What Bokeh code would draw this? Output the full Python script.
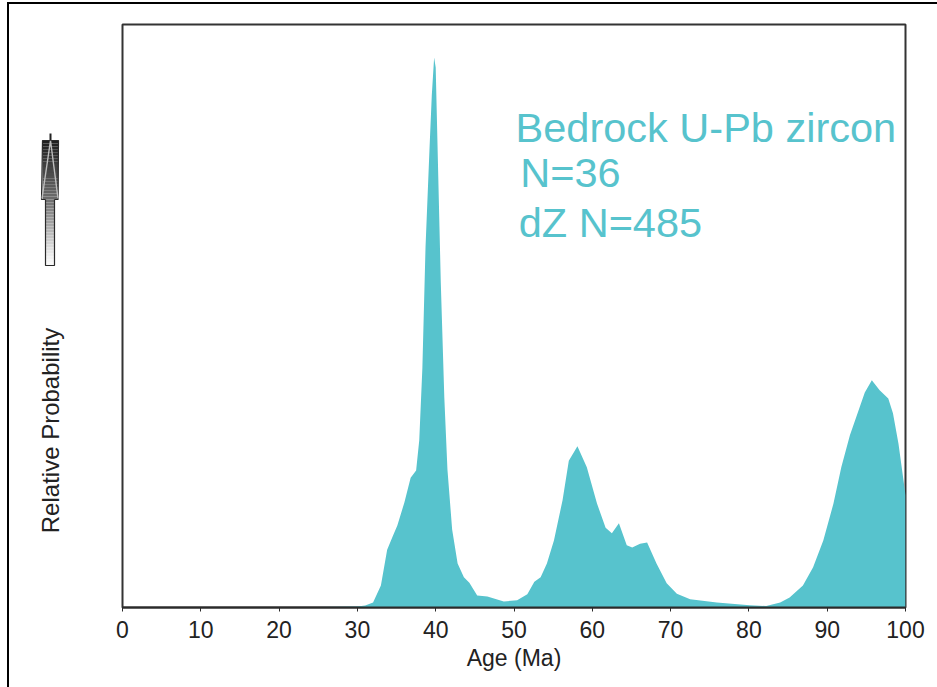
import math
from bokeh.plotting import figure
from bokeh.layouts import row
from bokeh.models import Range1d, FixedTicker, Label
from bokeh.embed import file_html
from bokeh.resources import INLINE

# ---- data ----
ages = [0, 20, 25, 28, 30, 31, 32, 33, 33.8, 34.5, 35.1, 36.0, 36.8, 37.5, 37.9,
        38.3, 38.7, 39.2, 39.5, 39.8, 40.0, 40.3, 40.65, 41.1, 41.5, 42.1, 42.8,
        43.6, 44.3, 45.3, 46.6, 48.7, 50.4, 51.7, 52.6, 53.4, 54.2, 55.1, 56.2,
        57.0, 58.1, 59.3, 60.6, 61.7, 62.5, 63.4, 64.4, 65.1, 66.1, 67.0, 68.2,
        69.5, 70.8, 72.5, 75.9, 80.1, 82.2, 84.0, 85.2, 86.9, 88.2, 89.5, 90.8,
        91.8, 92.9, 94.0, 94.8, 95.7, 96.7, 97.8, 98.4, 99.1, 99.7, 100]
rel_prob = [0, 0.05, 0.09, 0.15, 0.18, 0.36, 0.9, 4.0, 10.5, 12.9, 14.9, 19.1, 23.6,
            24.9, 30.4, 43.6, 65.5, 83.1, 93.1, 100, 98.2, 80.0, 59.1, 38.2, 25.1,
            14.2, 8.0, 5.5, 4.5, 2.2, 2.0, 1.1, 1.3, 2.4, 4.7, 5.5, 8.0, 12.2, 19.5,
            26.7, 29.3, 25.5, 18.9, 14.5, 13.5, 15.3, 11.3, 10.9, 11.6, 11.8, 8.0,
            4.4, 2.5, 1.5, 0.9, 0.4, 0.27, 0.9, 1.8, 4.0, 7.3, 12.2, 18.9, 25.5,
            31.3, 35.8, 39.1, 41.3, 39.5, 38.0, 35.3, 29.8, 23.6, 20.4]
tick_values = [0, 10, 20, 30, 40, 50, 60, 70, 80, 90, 100]
annot_lines = ["Bedrock U-Pb zircon", "N=36", "dZ N=485"]
annot_x = [50.2, 50.8, 50.6]
annot_y = [87.2, 79.1, 70.0]
y_label = "Relative Probability"
x_label = "Age (Ma)"

FONT = "Liberation Sans"
TEAL = "#57C3CD"
PAGE_W, PAGE_H = 937, 687
LEFT_W = 100                 # left panel (y label + arrow icon)
FRAME_T, FRAME_B = 24, 607   # frame top / bottom on the page

# ---- left panel: arrow icon and y label (its frame is aligned with the chart's) ----
left = figure(width=LEFT_W, height=PAGE_H, x_range=Range1d(0, LEFT_W),
              y_range=Range1d(0, FRAME_B - FRAME_T), output_backend="svg",
              toolbar_location=None, x_axis_location=None, y_axis_location=None,
              title_location=None, min_border_left=0, min_border_right=0,
              min_border_top=FRAME_T, min_border_bottom=PAGE_H - FRAME_B,
              outline_line_color=None)
left.grid.visible = False
left.background_fill_alpha = 0
left.border_fill_alpha = 0


def Y(cy):  # page pixel row -> left panel data y
    return FRAME_B - cy


head_shades = ["#1f1f1f", "#232323", "#272727", "#2c2c2c", "#303030", "#343434",
               "#383838", "#3c3c3c", "#404040", "#444444", "#484848", "#4c4c4c",
               "#505050", "#545454", "#585858", "#5c5c5c", "#606060", "#646464",
               "#686868", "#6a6a6a"]
shaft_shades = ["#707070", "#777777", "#7e7e7e", "#858585", "#8c8c8c", "#939393",
                "#9a9a9a", "#a1a1a1", "#a8a8a8", "#afafaf", "#b6b6b6", "#bdbdbd",
                "#c4c4c4", "#cbcbcb", "#d2d2d2", "#d9d9d9", "#e0e0e0", "#e6e6e6",
                "#ececec", "#f1f1f1", "#f5f5f5", "#f8f8f8"]
HEAD_T, HEAD_B, SHAFT_B = 140, 199, 265
hstep = (HEAD_B - HEAD_T) / len(head_shades)
left.quad(left=42, right=58,
          top=[Y(HEAD_T + i * hstep) for i in range(len(head_shades))],
          bottom=[Y(HEAD_T + (i + 1) * hstep) for i in range(len(head_shades))],
          fill_color=head_shades, line_color=None)
sstep = (SHAFT_B - HEAD_B) / len(shaft_shades)
left.quad(left=45, right=54,
          top=[Y(HEAD_B + i * sstep) for i in range(len(shaft_shades))],
          bottom=[Y(HEAD_B + (i + 1) * sstep) for i in range(len(shaft_shades))],
          fill_color=shaft_shades, line_color=None)
left.line(x=[45, 45, 54, 54], y=[Y(HEAD_B), Y(SHAFT_B), Y(SHAFT_B), Y(HEAD_B)],
          line_color="#2a2a2a", line_width=1.2)
left.line(x=[54, 57.5, 58, 42, 41, 45],
          y=[Y(HEAD_B), Y(HEAD_B), Y(HEAD_T), Y(HEAD_T), Y(HEAD_B), Y(HEAD_B)],
          line_color="#2a2a2a", line_width=1.2)
left.line(x=[41.5, 50, 57.5], y=[Y(HEAD_B - 1), Y(HEAD_T), Y(HEAD_B - 1)],
          line_color="#bdbdbd", line_width=1.4)
left.line(x=[50, 50], y=[Y(133), Y(HEAD_T)], line_color="#222222", line_width=2)

left.text(x=[50], y=[Y(430)], text=[y_label], angle=math.pi / 2, text_align="center",
          text_baseline="middle", text_font={"value": FONT}, text_font_size="24px",
          text_color="#222222")

# ---- main chart ----
p = figure(width=PAGE_W - LEFT_W, height=PAGE_H, x_range=Range1d(0, 100),
           y_range=Range1d(0, 106), output_backend="svg", toolbar_location=None,
           y_axis_location=None, title_location=None,
           min_border_left=122 - LEFT_W, min_border_right=32,
           min_border_top=FRAME_T, min_border_bottom=PAGE_H - FRAME_B)
p.grid.visible = False
p.background_fill_color = "white"
p.border_fill_alpha = 0
p.outline_line_color = "#333333"
p.outline_line_width = 2

p.varea(x=ages, y1=[0] * len(ages), y2=rel_prob, fill_color=TEAL)

ax = p.xaxis[0]
ax.ticker = FixedTicker(ticks=tick_values)
ax.axis_line_color = "#2a2a2a"
ax.axis_line_width = 2
ax.major_tick_out = 4
ax.major_tick_in = 0
ax.major_tick_line_color = "#2a2a2a"
ax.minor_tick_line_color = None
ax.major_label_text_font = FONT
ax.major_label_text_font_size = "23px"
ax.major_label_text_color = "#222222"
ax.major_label_standoff = 9
ax.axis_label = x_label
ax.axis_label_text_font = FONT
ax.axis_label_text_font_size = "23px"
ax.axis_label_text_font_style = "normal"
ax.axis_label_text_color = "#222222"
ax.axis_label_standoff = 4

for t, x, y in zip(annot_lines, annot_x, annot_y):
    p.add_layout(Label(x=x, y=y, text=t, text_font=FONT, text_font_size="41.5px",
                       text_color=TEAL, text_baseline="alphabetic"))

# outer border of the picture (left and top edges) painted behind the panels
border_css = {
    "background-color": "white",
    "background-image": "linear-gradient(#000, #000), linear-gradient(#000, #000)",
    "background-size": "2px 100%, 100% 2px",
    "background-position": "7px 2px, 7px 2px",
    "background-repeat": "no-repeat",
}
layout = row(left, p, spacing=0, styles=border_css)
out = file_html(layout, INLINE)
open("out.html", "w").write(out)
